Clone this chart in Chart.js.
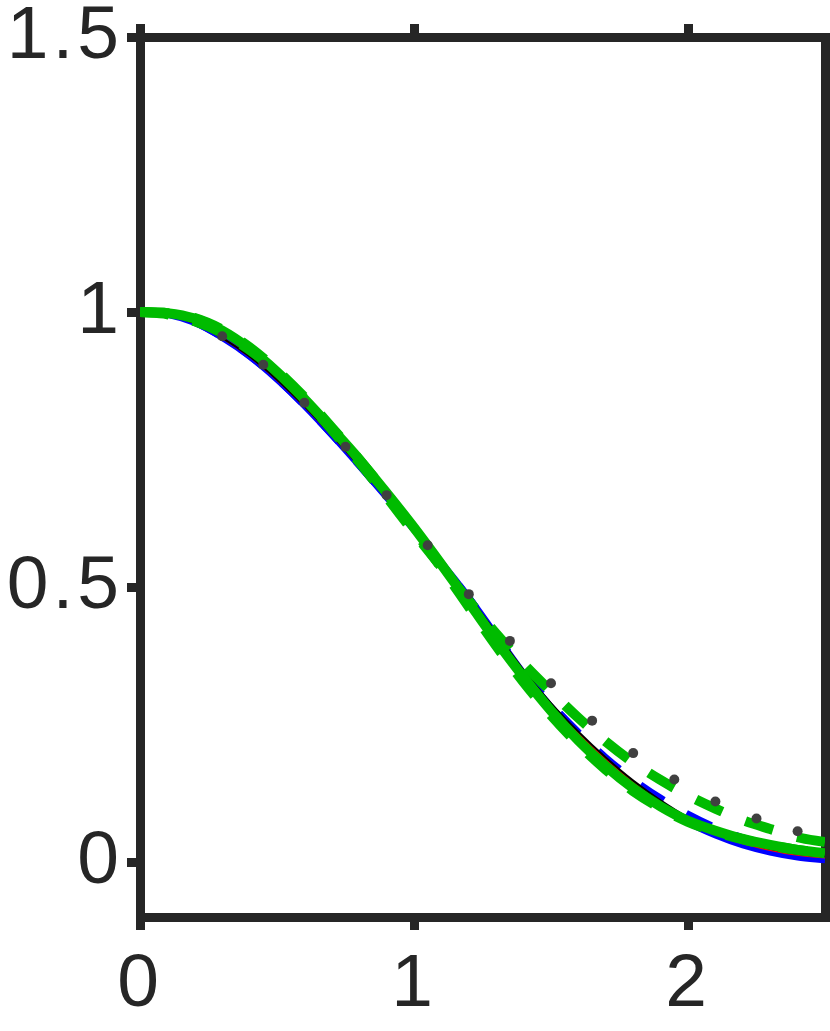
<!DOCTYPE html>
<html><head><meta charset="utf-8">
<script src="https://cdn.jsdelivr.net/npm/chart.js@4/dist/chart.umd.min.js"></script>
<style>html,body{margin:0;padding:0;background:#fff;overflow:hidden}</style>
</head><body>
<canvas id="c" width="830" height="1031"></canvas>
<script>
// ---- data ----
const xs = [0,0.1,0.2,0.3,0.4,0.5,0.6,0.7,0.8,0.9,1.0,1.1,1.2,1.3,1.4,1.5,1.6,1.7,1.8,1.9,2.0,2.1,2.2,2.3,2.4,2.5];
const blueSolid  = [1.000,0.995,0.980,0.953,0.919,0.877,0.829,0.776,0.720,0.662,0.603,0.545,0.482,0.413,0.344,0.283,0.229,0.180,0.137,0.101,0.071,0.048,0.030,0.017,0.008,0.003];
const blueDashed = [1.000,0.995,0.980,0.953,0.919,0.877,0.829,0.776,0.720,0.662,0.603,0.545,0.482,0.414,0.347,0.289,0.237,0.191,0.151,0.117,0.088,0.064,0.045,0.032,0.022,0.016];
const blackThin  = [1.000,0.995,0.980,0.953,0.919,0.877,0.829,0.776,0.720,0.662,0.603,0.545,0.483,0.416,0.349,0.289,0.237,0.190,0.148,0.112,0.081,0.056,0.037,0.024,0.015,0.010];
const redThin    = [1.000,0.995,0.980,0.953,0.919,0.877,0.829,0.776,0.720,0.662,0.603,0.545,0.482,0.415,0.348,0.287,0.234,0.187,0.145,0.109,0.078,0.053,0.034,0.022,0.013,0.008];
const greenSolid = [1.000,0.998,0.988,0.966,0.933,0.891,0.842,0.788,0.732,0.671,0.608,0.541,0.472,0.402,0.336,0.275,0.221,0.174,0.134,0.101,0.075,0.057,0.042,0.031,0.022,0.016];
const greenDashLow = [1.000,0.998,0.989,0.968,0.936,0.894,0.845,0.790,0.732,0.670,0.604,0.535,0.464,0.393,0.327,0.267,0.214,0.168,0.129,0.098,0.073,0.055,0.041,0.030,0.022,0.016];
const greenDashUp  = [1.000,0.996,0.983,0.962,0.931,0.891,0.842,0.786,0.727,0.664,0.599,0.536,0.475,0.415,0.360,0.310,0.262,0.219,0.181,0.149,0.121,0.097,0.076,0.060,0.045,0.036];
const dotX = [0.30,0.45,0.60,0.75,0.90,1.05,1.20,1.35,1.50,1.65,1.80,1.95,2.10,2.25,2.40];
const dotY = [0.956,0.904,0.835,0.755,0.667,0.576,0.487,0.402,0.325,0.257,0.198,0.150,0.110,0.079,0.056];
const xTicks = [0,1,2];
const xTickLabels = ['0','1','2'];
const yTicks = [0,0.5,1,1.5];
const yTickLabels = ['0','0.5','1','1.5'];

// ---- styling ----
const AX = '#262626';
const GREEN = '#00bb00';
const BLUE = '#0000ff';
const FONT = {family: "'Liberation Sans', Arial, Helvetica, sans-serif", size: 75};

const pts = (ys) => xs.map((x, i) => ({x: x, y: ys[i]}));
const lineDs = (ys, color, w, dash, order) => ({
  data: pts(ys), borderColor: color, backgroundColor: color, borderWidth: w,
  borderDash: dash, pointRadius: 0, fill: false, cubicInterpolationMode: 'monotone',
  borderCapStyle: 'butt', borderJoinStyle: 'round', order: order
});

const axisCommon = (min, max, ticks, labels, showLabels, pad) => ({
  type: 'linear', min: min, max: max,
  afterBuildTicks: (s) => { s.ticks = ticks.map(v => ({value: v})); },
  ticks: {display: showLabels, font: FONT, color: AX, padding: pad,
          callback: (v, i) => labels[i]},
  grid: {display: true, drawOnChartArea: false, drawTicks: true, tickLength: 13,
         tickWidth: 9, tickColor: AX, color: AX, lineWidth: 9},
  border: {display: true, width: 9, color: AX}
});

const noPad = (s) => { s.paddingTop = 0; s.paddingBottom = 0; s.paddingLeft = 0; s.paddingRight = 0; };
const xB = axisCommon(0, 2.5, xTicks, xTickLabels, true, 10);
xB.position = 'bottom'; xB.afterFit = (s) => { s.height = 114; noPad(s); };
const xT = axisCommon(0, 2.5, xTicks, xTickLabels, false, 0);
xT.position = 'top'; xT.afterFit = (s) => { s.height = 37; noPad(s); };
const yL = axisCommon(-0.1, 1.5, yTicks, yTickLabels, true, 4);
yL.position = 'left'; yL.afterFit = (s) => { s.width = 140; noPad(s); };
const yR = axisCommon(-0.1, 1.5, yTicks, yTickLabels, false, 0);
yR.position = 'right'; yR.afterFit = (s) => { s.width = 5; noPad(s); };

// slightly wider tick text, like the reference's stretched labels
const spacing = {
  id: 'spacing',
  beforeUpdate: (c) => { c.ctx.letterSpacing = '4px'; },
  beforeDraw: (c) => { c.ctx.letterSpacing = '4px'; }
};

new Chart(document.getElementById('c'), {
  type: 'line',
  data: {
    datasets: [
      {type: 'scatter', data: dotX.map((x, i) => ({x: x, y: dotY[i]})), showLine: false,
       pointRadius: 5, pointBackgroundColor: '#404040', pointBorderWidth: 0, order: 0},
      lineDs(greenDashUp, GREEN, 10, [29, 25], 1),
      lineDs(greenSolid, GREEN, 10, [], 2),
      lineDs(greenDashLow, GREEN, 10, [29, 25], 3),
      lineDs(blackThin, '#000000', 2, [], 4),
      lineDs(redThin, '#ff0000', 2, [], 5),
      lineDs(blueDashed, BLUE, 6, [28, 26], 6),
      lineDs(blueSolid, BLUE, 6, [], 7)
    ]
  },
  plugins: [spacing],
  options: {
    responsive: false, animation: false, devicePixelRatio: 1, events: [],
    layout: {padding: 0},
    plugins: {legend: {display: false}, tooltip: {enabled: false}, title: {display: false}},
    scales: {x: xB, x2: xT, y: yL, y2: yR}
  }
});
</script>
</body></html>
